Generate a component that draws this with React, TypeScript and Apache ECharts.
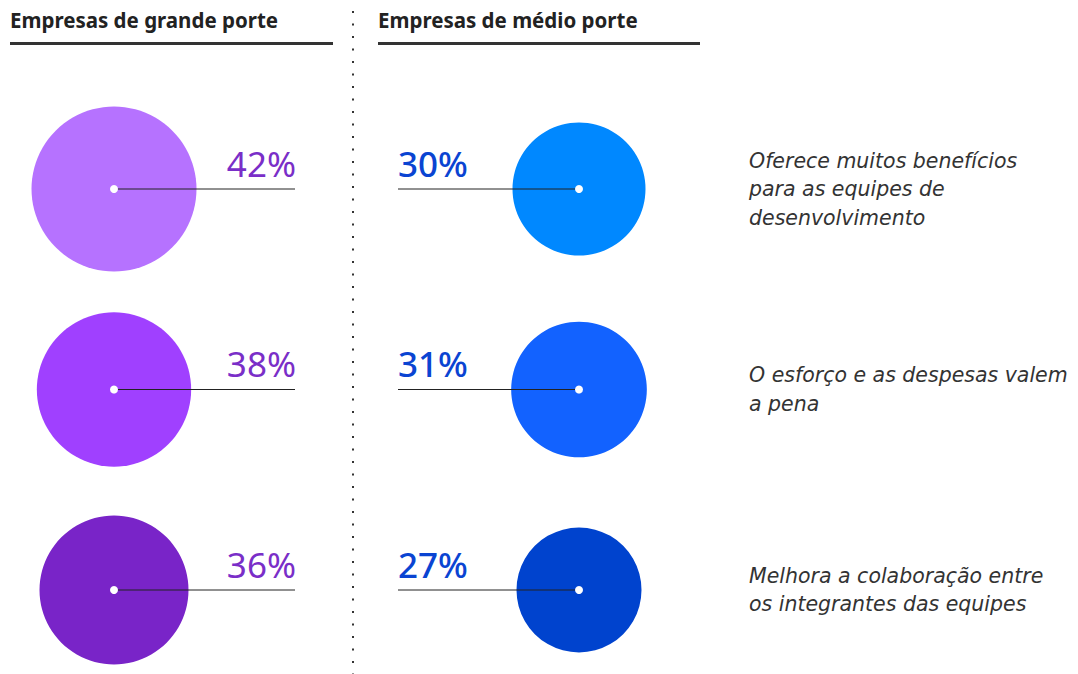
import React, { useEffect, useRef } from "react";
import * as echarts from "echarts";

const groups = ["Empresas de grande porte", "Empresas de médio porte"];
const statements = [
  "Oferece muitos benefícios\npara as equipes de\ndesenvolvimento",
  "O esforço e as despesas valem\na pena",
  "Melhora a colaboração entre\nos integrantes das equipes",
];
const largeValues = [42, 38, 36];
const mediumValues = [30, 31, 27];

const largeColors = ["#b672ff", "#a040ff", "#7924c8"];
const mediumColors = ["#0088ff", "#1262ff", "#0043ce"];
const textColors = ["#7a2ec8", "#0a44d2"];

export default function App() {
  const ref = useRef<HTMLDivElement>(null);
  useEffect(() => {
    if (!ref.current) return;
    const chart = echarts.init(ref.current, null, { renderer: "svg" });
    const radius = (v: number) => 26.5 + (v * 4) / 3;

    const makeSeries = (gi: number, values: number[], colors: string[]) => ({
      type: "custom",
      name: groups[gi],
      coordinateSystem: "cartesian2d",
      data: values.map((v, i) => [gi, i, v]),
      renderItem: (params: any, api: any) => {
        const pt = api.coord([api.value(0), api.value(1)]);
        const v = api.value(2);
        const r = radius(v);
        const idx = params.dataIndex;
        const left = gi === 0;
        const lineEnd = left ? pt[0] + 181 : pt[0] - 181;
        return {
          type: "group",
          children: [
            {
              type: "circle",
              shape: { cx: pt[0], cy: pt[1], r },
              style: { fill: colors[idx] },
            },
            {
              type: "line",
              shape: { x1: pt[0], y1: pt[1], x2: lineEnd, y2: pt[1] },
              style: { stroke: "#222", lineWidth: 1 },
            },
            {
              type: "circle",
              shape: { cx: pt[0], cy: pt[1], r: 4 },
              style: { fill: "#ffffff" },
            },
            {
              type: "text",
              x: left ? pt[0] + 182 : pt[0] - 181,
              y: pt[1] - 26,
              style: {
                text: v + "%",
                fill: textColors[gi],
                fontSize: 35,
                fontFamily: "Noto Sans",
                fontWeight: left ? 400 : 500,
                textAlign: left ? "right" : "left",
                textVerticalAlign: "middle",
              },
            },
          ],
        };
      },
    });

    chart.setOption({
      animation: false,
      grid: { left: 114, right: 499, top: 189, bottom: 84 },
      xAxis: {
        type: "value",
        min: 0,
        max: 1,
        show: false,
      },
      yAxis: {
        type: "category",
        data: statements,
        inverse: true,
        boundaryGap: false,
        position: "right",
        axisLine: { show: false },
        axisTick: { show: false },
        splitLine: { show: false },
        axisLabel: {
          margin: 170,
          align: "left",
          verticalAlign: "middle",
          color: "#333",
          fontFamily: "DejaVu Sans",
          fontStyle: "italic",
          fontSize: 20.5,
          lineHeight: 28.5,
        },
      },
      graphic: [
        {
          type: "text",
          left: 10,
          top: 9,
          style: {
            text: groups[0],
            fill: "#222",
            font: "bold 20.5px 'Noto Sans'",
          },
        },
        {
          type: "text",
          left: 378,
          top: 9,
          style: {
            text: groups[1],
            fill: "#222",
            font: "bold 20.5px 'Noto Sans'",
          },
        },
        {
          type: "rect",
          shape: { x: 10, y: 42, width: 323, height: 3 },
          style: { fill: "#333" },
        },
        {
          type: "rect",
          shape: { x: 378, y: 42, width: 322, height: 3 },
          style: { fill: "#333" },
        },
        {
          type: "line",
          shape: { x1: 353, y1: 11, x2: 353, y2: 674 },
          style: { stroke: "#333", lineWidth: 2, lineDash: [2, 10.5] },
        },
      ],
      series: [
        makeSeries(0, largeValues, largeColors),
        makeSeries(1, mediumValues, mediumColors),
      ],
    });
    return () => chart.dispose();
  }, []);
  return (
    <div
      ref={ref}
      style={{ position: "fixed", left: 0, top: 0, width: 1078, height: 674, background: "#fff" }}
    />
  );
}
